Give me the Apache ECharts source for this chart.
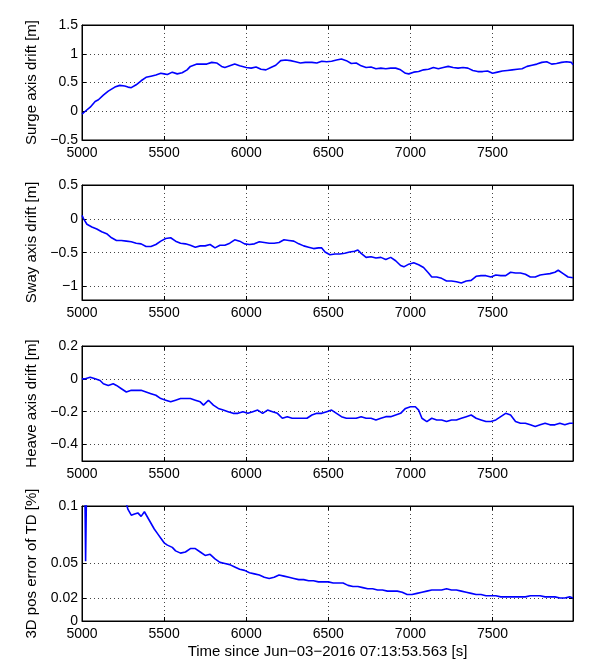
<!DOCTYPE html>
<html>
<head>
<meta charset="utf-8">
<script src="https://cdn.jsdelivr.net/npm/echarts@6/dist/echarts.min.js"></script>
<style>html,body{margin:0;padding:0;background:#fff}#c{width:590px;height:663px}</style>
</head>
<body>
<div id="c"></div>
<script>
// ---- data ----
const xTicks = [5000, 5500, 6000, 6500, 7000, 7500];

const surgeT = [5000,5020,5050,5080,5100,5130,5160,5200,5230,5260,5280,5300,5330,5360,5390,5420,5450,5480,5500,5520,5550,5580,5610,5640,5660,5700,5730,5760,5790,5820,5850,5870,5900,5930,5960,6000,6030,6060,6090,6120,6150,6180,6210,6240,6270,6300,6330,6360,6400,6430,6460,6490,6520,6550,6580,6610,6640,6670,6700,6730,6760,6790,6820,6850,6880,6910,6940,6970,6990,7020,7050,7080,7110,7140,7170,7200,7230,7260,7290,7320,7350,7380,7410,7440,7470,7500,7530,7560,7590,7620,7650,7680,7710,7740,7770,7800,7830,7860,7890,7920,7950,7980,7990];
const surge = [-0.05,0.0,0.07,0.17,0.2,0.28,0.35,0.42,0.45,0.44,0.42,0.41,0.46,0.53,0.59,0.61,0.63,0.66,0.65,0.64,0.68,0.65,0.67,0.72,0.78,0.82,0.82,0.82,0.85,0.84,0.78,0.76,0.79,0.82,0.79,0.76,0.75,0.77,0.73,0.72,0.76,0.8,0.88,0.89,0.88,0.86,0.84,0.85,0.85,0.84,0.87,0.86,0.87,0.89,0.91,0.88,0.83,0.84,0.79,0.76,0.77,0.74,0.75,0.74,0.75,0.75,0.72,0.66,0.65,0.68,0.69,0.72,0.73,0.76,0.74,0.76,0.78,0.76,0.75,0.76,0.75,0.71,0.69,0.69,0.70,0.66,0.68,0.70,0.71,0.72,0.73,0.74,0.78,0.80,0.82,0.85,0.86,0.82,0.83,0.85,0.86,0.85,0.81];

const swayT = [5000,5010,5030,5060,5090,5120,5150,5180,5210,5240,5270,5300,5330,5360,5390,5420,5450,5480,5510,5540,5570,5600,5630,5660,5690,5720,5750,5780,5810,5840,5870,5900,5930,5960,5990,6020,6050,6080,6110,6140,6170,6200,6230,6260,6290,6320,6350,6380,6410,6440,6460,6480,6510,6540,6570,6600,6630,6660,6680,6700,6730,6760,6790,6820,6850,6880,6910,6940,6960,6990,7020,7050,7080,7110,7130,7160,7190,7220,7250,7280,7310,7340,7370,7400,7430,7460,7490,7520,7550,7580,7610,7640,7670,7700,7730,7760,7790,7820,7850,7880,7900,7930,7960,7990];
const sway = [0.05,0.0,-0.08,-0.12,-0.15,-0.19,-0.22,-0.28,-0.32,-0.32,-0.33,-0.34,-0.36,-0.37,-0.41,-0.41,-0.38,-0.33,-0.29,-0.28,-0.33,-0.36,-0.37,-0.39,-0.42,-0.40,-0.40,-0.38,-0.43,-0.39,-0.39,-0.36,-0.31,-0.33,-0.37,-0.38,-0.37,-0.34,-0.35,-0.36,-0.36,-0.35,-0.31,-0.32,-0.33,-0.37,-0.40,-0.42,-0.44,-0.43,-0.43,-0.49,-0.53,-0.52,-0.52,-0.51,-0.49,-0.48,-0.46,-0.51,-0.57,-0.56,-0.58,-0.57,-0.60,-0.57,-0.62,-0.69,-0.71,-0.67,-0.65,-0.68,-0.72,-0.80,-0.86,-0.86,-0.88,-0.92,-0.92,-0.93,-0.95,-0.92,-0.91,-0.85,-0.84,-0.84,-0.86,-0.83,-0.84,-0.84,-0.79,-0.80,-0.80,-0.82,-0.86,-0.86,-0.83,-0.82,-0.81,-0.79,-0.76,-0.81,-0.86,-0.87];

const heaveT = [5000,5020,5050,5080,5110,5130,5160,5190,5210,5240,5270,5300,5330,5360,5390,5420,5450,5480,5510,5540,5570,5600,5630,5660,5690,5720,5740,5770,5800,5830,5860,5890,5920,5950,5980,6010,6040,6070,6100,6130,6160,6190,6220,6250,6280,6310,6340,6370,6400,6430,6460,6490,6520,6550,6580,6610,6640,6670,6700,6730,6760,6790,6820,6850,6880,6910,6940,6970,7000,7030,7050,7070,7100,7130,7160,7190,7220,7250,7280,7310,7340,7370,7400,7430,7460,7490,7520,7550,7580,7610,7640,7670,7700,7730,7760,7790,7820,7850,7880,7910,7940,7970,7990];
const heave = [0.0,0.0,0.01,0.0,-0.01,-0.03,-0.04,-0.03,-0.04,-0.06,-0.08,-0.07,-0.07,-0.07,-0.08,-0.09,-0.10,-0.12,-0.13,-0.14,-0.13,-0.12,-0.12,-0.12,-0.13,-0.14,-0.16,-0.13,-0.16,-0.18,-0.19,-0.2,-0.21,-0.21,-0.2,-0.21,-0.2,-0.19,-0.21,-0.19,-0.2,-0.21,-0.24,-0.23,-0.24,-0.24,-0.24,-0.24,-0.22,-0.21,-0.21,-0.2,-0.19,-0.21,-0.23,-0.24,-0.24,-0.24,-0.23,-0.24,-0.24,-0.25,-0.24,-0.23,-0.23,-0.22,-0.21,-0.18,-0.17,-0.17,-0.19,-0.24,-0.26,-0.24,-0.25,-0.25,-0.26,-0.25,-0.25,-0.24,-0.23,-0.22,-0.24,-0.25,-0.26,-0.26,-0.25,-0.23,-0.21,-0.22,-0.26,-0.27,-0.27,-0.28,-0.29,-0.28,-0.27,-0.28,-0.28,-0.27,-0.28,-0.27,-0.27];

const errT = [5000,5015,5022,5028,5100,5200,5270,5280,5300,5320,5340,5360,5380,5400,5420,5440,5460,5480,5500,5520,5550,5570,5600,5630,5660,5690,5720,5750,5780,5810,5840,5870,5900,5930,5960,5990,6020,6050,6080,6110,6140,6170,6200,6230,6260,6290,6320,6350,6380,6410,6440,6470,6500,6530,6560,6590,6620,6650,6680,6710,6740,6770,6800,6830,6860,6890,6920,6950,6980,7010,7040,7070,7100,7130,7160,7190,7220,7250,7280,7310,7340,7370,7400,7430,7460,7490,7520,7550,7580,7610,7640,7670,7700,7730,7760,7790,7820,7850,7880,7910,7940,7970,7990];
const err = [0.2,0.15,0.052,0.12,0.2,0.15,0.102,0.097,0.092,0.093,0.094,0.091,0.095,0.09,0.085,0.08,0.076,0.072,0.068,0.066,0.064,0.061,0.059,0.060,0.063,0.063,0.060,0.057,0.058,0.054,0.051,0.050,0.049,0.047,0.045,0.044,0.042,0.041,0.040,0.038,0.037,0.038,0.040,0.039,0.038,0.037,0.036,0.036,0.035,0.035,0.034,0.034,0.034,0.033,0.033,0.033,0.031,0.030,0.030,0.029,0.028,0.028,0.027,0.027,0.026,0.026,0.026,0.025,0.023,0.023,0.024,0.025,0.026,0.027,0.027,0.027,0.028,0.027,0.027,0.026,0.025,0.024,0.023,0.023,0.022,0.022,0.022,0.021,0.021,0.021,0.021,0.021,0.021,0.022,0.022,0.022,0.021,0.021,0.021,0.020,0.020,0.021,0.020];

const panels = [
  {name: 'Surge axis drift [m]', t: surgeT, v: surge, min: -0.5, max: 1.5, ticks: [-0.5, 0, 0.5, 1, 1.5]},
  {name: 'Sway axis drift [m]', t: swayT, v: sway, min: -1.2, max: 0.5, ticks: [-1, -0.5, 0, 0.5]},
  {name: 'Heave axis drift [m]', t: heaveT, v: heave, min: -0.5, max: 0.2, ticks: [-0.4, -0.2, 0, 0.2]},
  {name: '3D pos error of TD [%]', t: errT, v: err, min: 0, max: 0.1, ticks: [0, 0.02, 0.05, 0.1]}
];
const xName = 'Time since Jun\u221203\u22122016 07:13:53.563 [s]';
const xMin = 5000, xMax = 7990;

// ---- chart ----
const FONT = 'Liberation Sans, Arial, Helvetica, sans-serif';
const tops = [25, 185, 346, 506];
const fmt = v => String(+v.toFixed(4)).replace('-', '\u2212');
const grid = [], xAxis = [], yAxis = [], series = [];
const gridLine = {show: true, lineStyle: {color: '#444', type: [1, 3], width: 1}};
panels.forEach((p, i) => {
  grid.push({left: 82, top: tops[i], width: 491, height: 115, show: true, borderColor: '#000', borderWidth: 1, backgroundColor: 'transparent'});
  const isLast = i === panels.length - 1;
  xAxis.push({
    type: 'value', gridIndex: i, min: xMin, max: xMax, position: 'bottom',
    axisLine: {show: true, onZero: false, lineStyle: {color: '#000'}},
    axisTick: {show: true, inside: true, length: 4, customValues: xTicks, lineStyle: {color: '#000'}},
    axisLabel: {customValues: xTicks, color: '#000', fontSize: 14, fontFamily: FONT, margin: 6, formatter: fmt},
    splitLine: gridLine,
    name: isLast ? xName : '', nameLocation: 'middle', nameGap: 23,
    nameTextStyle: {color: '#000', fontSize: 15, fontFamily: FONT}
  });
  xAxis.push({
    type: 'value', gridIndex: i, min: xMin, max: xMax, position: 'top',
    axisLine: {show: true, onZero: false, lineStyle: {color: '#000'}},
    axisTick: {show: true, inside: true, length: 4, customValues: xTicks, lineStyle: {color: '#000'}},
    axisLabel: {show: false}, splitLine: {show: false}
  });
  yAxis.push({
    type: 'value', gridIndex: i, min: p.min, max: p.max, position: 'left',
    axisLine: {show: true, onZero: false, lineStyle: {color: '#000'}},
    axisTick: {show: true, inside: true, length: 4, customValues: p.ticks, lineStyle: {color: '#000'}},
    axisLabel: {customValues: p.ticks, color: '#000', fontSize: 14, fontFamily: FONT, margin: 4, formatter: fmt},
    splitLine: gridLine,
    name: p.name, nameLocation: 'middle', nameGap: 37, nameRotate: 90,
    nameTextStyle: {color: '#000', fontSize: 15, fontFamily: FONT}
  });
  yAxis.push({
    type: 'value', gridIndex: i, min: p.min, max: p.max, position: 'right',
    axisLine: {show: true, onZero: false, lineStyle: {color: '#000'}},
    axisTick: {show: true, inside: true, length: 4, customValues: p.ticks, lineStyle: {color: '#000'}},
    axisLabel: {show: false}, splitLine: {show: false}
  });
  series.push({
    type: 'line', xAxisIndex: 2 * i, yAxisIndex: 2 * i,
    data: p.t.map((t, k) => [t, p.v[k]]),
    showSymbol: false, clip: true, animation: false,
    lineStyle: {color: '#0000ff', width: 1.6}
  });
});

const chart = echarts.init(document.getElementById('c'));
chart.setOption({animation: false, backgroundColor: '#fff', grid, xAxis, yAxis, series});
</script>
</body>
</html>
